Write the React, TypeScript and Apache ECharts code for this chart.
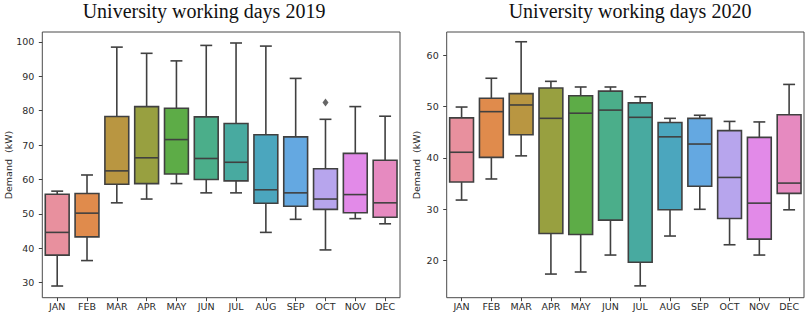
import React, { useEffect, useRef } from "react";
import * as echarts from "echarts";

const months = ["JAN", "FEB", "MAR", "APR", "MAY", "JUN", "JUL", "AUG", "SEP", "OCT", "NOV", "DEC"];
const boxColors = ["#e8909e", "#e08b4c", "#b99641", "#98a040", "#5dac47", "#4bae8a", "#48aaa0", "#4ba6be", "#64a8e1", "#b7a5ed", "#e28ae8", "#e68ac0"];

// 2019
const lo2019 = [29.0, 36.4, 53.2, 54.3, 58.8, 56.1, 56.1, 44.6, 48.4, 39.5, 48.6, 47.1];
const q1_2019 = [38.0, 43.3, 58.6, 58.8, 61.6, 60.0, 59.6, 53.1, 52.2, 51.3, 50.3, 49.0];
const med2019 = [44.6, 50.2, 62.5, 66.3, 71.6, 66.1, 65.0, 57.0, 56.1, 54.3, 55.6, 53.2];
const q3_2019 = [55.7, 55.9, 78.3, 81.2, 80.7, 78.2, 76.3, 73.0, 72.4, 63.1, 67.6, 65.6];
const hi2019 = [56.6, 61.3, 98.5, 96.7, 94.5, 99.0, 99.7, 98.8, 89.4, 77.5, 81.2, 78.4];
const outliers2019: [string, number][] = [["OCT", 82.4]];
const ticks2019 = [30, 40, 50, 60, 70, 80, 90, 100];

// 2020
const lo2020 = [31.8, 35.9, 40.4, 17.4, 17.8, 21.1, 15.1, 24.8, 30.0, 23.1, 21.1, 29.9];
const q1_2020 = [35.3, 40.1, 44.5, 25.3, 25.1, 27.9, 19.7, 29.9, 34.5, 28.2, 24.2, 33.1];
const med2020 = [41.1, 49.0, 50.3, 47.7, 48.7, 49.3, 47.9, 44.1, 42.7, 36.2, 31.2, 35.1];
const q3_2020 = [47.8, 51.6, 52.5, 53.6, 52.1, 53.0, 50.7, 46.9, 47.7, 45.3, 44.0, 48.4];
const hi2020 = [49.9, 55.5, 62.6, 54.9, 53.8, 53.8, 51.9, 47.7, 48.3, 47.1, 47.0, 54.3];
const ticks2020 = [20, 30, 40, 50, 60];

const titles = ["University working days 2019", "University working days 2020"];
const yName = "Demand  (kW)";

const LINE = "#404040";
const TEXT = "#2b2b2b";
const FONT = "DejaVu Sans";

function buildBoxData(lo: number[], q1: number[], med: number[], q3: number[], hi: number[]) {
  return months.map((_, i) => [i, lo[i], q1[i], med[i], q3[i], hi[i]]);
}

function renderBox(params: any, api: any) {
  const x = api.value(0);
  const pLo = api.coord([x, api.value(1)]);
  const pQ1 = api.coord([x, api.value(2)]);
  const pMed = api.coord([x, api.value(3)]);
  const pQ3 = api.coord([x, api.value(4)]);
  const pHi = api.coord([x, api.value(5)]);
  const band = api.size([1, 0])[0];
  const w = band * 0.8;
  const half = w / 2;
  const cap = w / 4;
  const cx = pLo[0];
  const ls = { stroke: LINE, lineWidth: 1.6 };
  return {
    type: "group",
    children: [
      { type: "line", shape: { x1: cx, y1: pQ3[1], x2: cx, y2: pHi[1] }, style: ls },
      { type: "line", shape: { x1: cx, y1: pQ1[1], x2: cx, y2: pLo[1] }, style: ls },
      { type: "line", shape: { x1: cx - cap, y1: pHi[1], x2: cx + cap, y2: pHi[1] }, style: ls },
      { type: "line", shape: { x1: cx - cap, y1: pLo[1], x2: cx + cap, y2: pLo[1] }, style: ls },
      {
        type: "rect",
        shape: { x: cx - half, y: pQ3[1], width: w, height: pQ1[1] - pQ3[1] },
        style: { fill: boxColors[params.dataIndex], stroke: LINE, lineWidth: 1.6 },
      },
      { type: "line", shape: { x1: cx - half, y1: pMed[1], x2: cx + half, y2: pMed[1] }, style: ls },
    ],
  };
}

function yAxisDef(gridIndex: number, min: number, max: number, ticks: number[]) {
  return {
    type: "value",
    gridIndex,
    min,
    max,
    axisLine: { show: false },
    splitLine: { show: false },
    axisTick: { show: true, inside: false, length: 3.5, customValues: ticks, lineStyle: { color: LINE, width: 1 } },
    axisLabel: { customValues: ticks, color: TEXT, fontFamily: FONT, fontSize: 9.5, margin: 8 },
  };
}

function xAxisDef(gridIndex: number) {
  return {
    type: "category",
    gridIndex,
    data: months,
    boundaryGap: true,
    axisLine: { show: false },
    splitLine: { show: false },
    axisTick: { show: true, alignWithLabel: true, length: 3.5, lineStyle: { color: LINE, width: 1 } },
    axisLabel: { color: TEXT, fontFamily: FONT, fontSize: 9.5, margin: 4, interval: 0 },
  };
}

export default function App() {
  const ref = useRef<HTMLDivElement>(null);
  useEffect(() => {
    if (!ref.current) return;
    const chart = echarts.init(ref.current, null, { renderer: "svg" });
    const gridCommon = { top: 32, bottom: 20.3, show: true, borderColor: "#4a4a4a", borderWidth: 1, backgroundColor: "#ffffff" };
    chart.setOption({
      animation: false,
      backgroundColor: "#ffffff",
      grid: [
        { ...gridCommon, left: 42.3, right: 409 },
        { ...gridCommon, left: 446.7, right: 5 },
      ],
      xAxis: [xAxisDef(0), xAxisDef(1)],
      yAxis: [yAxisDef(0, 25.6, 102.9, ticks2019), yAxisDef(1, 12.8, 64.5, ticks2020)],
      graphic: [
        { type: "text", x: 204, y: 11, style: { text: titles[0], fill: "#111", font: "20px 'Liberation Serif'", textAlign: "center", textVerticalAlign: "middle" } },
        { type: "text", x: 630, y: 11, style: { text: titles[1], fill: "#111", font: "20px 'Liberation Serif'", textAlign: "center", textVerticalAlign: "middle" } },
        { type: "text", x: 8.3, y: 165, rotation: Math.PI / 2, style: { text: yName, fill: TEXT, font: `9.5px '${FONT}'`, textAlign: "center", textVerticalAlign: "middle" } },
        { type: "text", x: 416.7, y: 165, rotation: Math.PI / 2, style: { text: yName, fill: TEXT, font: `9.5px '${FONT}'`, textAlign: "center", textVerticalAlign: "middle" } },
      ],
      series: [
        {
          type: "custom",
          xAxisIndex: 0,
          yAxisIndex: 0,
          renderItem: renderBox,
          encode: { x: 0, y: [1, 2, 3, 4, 5] },
          data: buildBoxData(lo2019, q1_2019, med2019, q3_2019, hi2019),
        },
        {
          type: "scatter",
          xAxisIndex: 0,
          yAxisIndex: 0,
          symbol: "diamond",
          symbolSize: [6, 8],
          itemStyle: { color: LINE },
          data: outliers2019,
        },
        {
          type: "custom",
          xAxisIndex: 1,
          yAxisIndex: 1,
          renderItem: renderBox,
          encode: { x: 0, y: [1, 2, 3, 4, 5] },
          data: buildBoxData(lo2020, q1_2020, med2020, q3_2020, hi2020),
        },
      ],
    });
    return () => chart.dispose();
  }, []);
  return (
    <div style={{ position: "absolute", left: 0, top: 0, width: 809, height: 318, background: "#fff" }}>
      <div ref={ref} style={{ width: 809, height: 318 }} />
    </div>
  );
}
